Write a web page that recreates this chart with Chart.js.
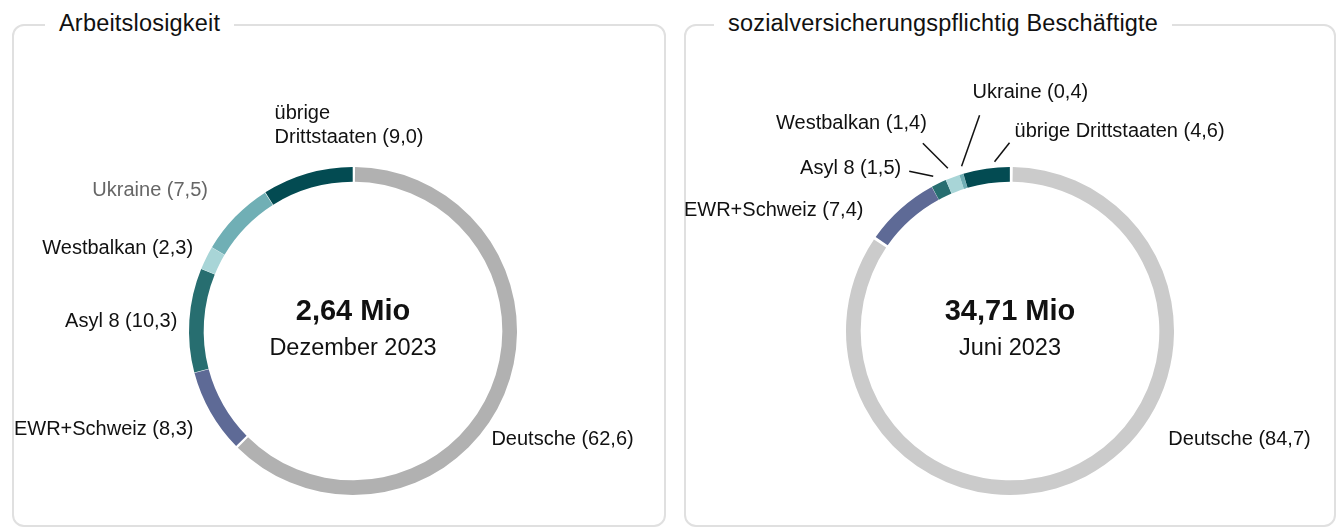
<!DOCTYPE html>
<html lang="de">
<head>
<meta charset="utf-8">
<title>Arbeitslosigkeit und Beschäftigte nach Staatsangehörigkeit</title>
<script src="https://cdn.jsdelivr.net/npm/chart.js@4.4.1/dist/chart.umd.min.js"></script>
<style>
  html, body { margin: 0; padding: 0; background: #fff; }
  body { width: 1336px; height: 529px; position: relative; overflow: hidden; font-family: 'Liberation Sans', Arial, sans-serif; }
  .panel { position: absolute; top: 24px; height: 503px; border: 2px solid #e0e0e0; border-radius: 12px; box-sizing: border-box; }
  #panelLeft { left: 12px; width: 654px; }
  #panelRight { left: 684px; width: 652px; }
  .panel h2 { position: absolute; top: -17px; margin: 0; padding: 0 14px; background: #fff; font-weight: normal; font-size: 23.5px; line-height: 28px; color: #111; letter-spacing: 0.2px; }
  #panelLeft h2 { left: 31px; }
  #panelRight h2 { left: 28px; }
  canvas { position: absolute; top: 24px; }
  #chartLeft { left: 12px; }
  #chartRight { left: 684px; }
</style>
</head>
<body>
<div class="panel" id="panelLeft"><h2>Arbeitslosigkeit</h2></div>
<div class="panel" id="panelRight"><h2>sozialversicherungspflichtig Beschäftigte</h2></div>
<canvas id="chartLeft" width="654" height="503"></canvas>
<canvas id="chartRight" width="652" height="503"></canvas>
<script>
// Anteile in Prozent
const categories = ['Deutsche', 'EWR+Schweiz', 'Asyl 8', 'Westbalkan', 'Ukraine', 'übrige Drittstaaten'];
const sharesUnemployed = [62.6, 8.3, 10.3, 2.3, 7.5, 9.0];
const sharesEmployed = [84.7, 7.4, 1.5, 1.4, 0.4, 4.6];
const totalUnemployed = '2,64 Mio';
const dateUnemployed = 'Dezember 2023';
const totalEmployed = '34,71 Mio';
const dateEmployed = 'Juni 2023';

const colorsLeft = ['#b1b1b1', '#5e6a96', '#276e70', '#a8d5d7', '#70afb5', '#034b52'];
const colorsRight = ['#cbcbcb', '#5e6a96', '#276e70', '#a8d5d7', '#70afb5', '#034b52'];

// label placement relative to the middle of each arc (outer edge)
const layoutLeft = [
  { dx: -12, dy: 46, align: 'left' },
  { dx: -18, dy: 18, align: 'right' },
  { dx: -13, dy: 1, align: 'right' },
  { dx: -14, dy: -10, align: 'right' },
  { dx: -28, dy: -27, align: 'right', color: '#666' },
  { dx: -33, dy: -61, align: 'left', wrap: true }
];
const layoutRight = [
  { dx: 83, dy: -36, align: 'left' },
  { dx: -38, dy: 1, align: 'right' },
  { dx: -38, dy: -16, align: 'right', line: [-6, -8, -30, -13] },
  { dx: -26, dy: -55, align: 'right', line: [-5, -10, -30, -35] },
  { dx: 11, dy: -83, align: 'left', line: [0, -9, 18, -60] },
  { dx: 28, dy: -38, align: 'left', line: [8, -8, 23, -27] }
];

const fmt = new Intl.NumberFormat('de-DE', { minimumFractionDigits: 1, maximumFractionDigits: 1 });
const FONT = "'Liberation Sans', Arial, sans-serif";

const outerLabels = {
  id: 'outerLabels',
  afterDraw(chart, args, opts) {
    const ctx = chart.ctx;
    const meta = chart.getDatasetMeta(0);
    const values = chart.data.datasets[0].data;
    ctx.save();
    ctx.font = '20px ' + FONT;
    ctx.textBaseline = 'middle';
    let cx = 0, cy = 0;
    meta.data.forEach((arc, i) => {
      const p = arc.getProps(['x', 'y', 'startAngle', 'endAngle', 'outerRadius'], true);
      cx = p.x; cy = p.y;
      const mid = (p.startAngle + p.endAngle) / 2;
      const ax = p.x + Math.cos(mid) * p.outerRadius;
      const ay = p.y + Math.sin(mid) * p.outerRadius;
      const lay = opts.layout[i];
      if (lay.line) {
        ctx.strokeStyle = '#111';
        ctx.lineWidth = 1.5;
        ctx.beginPath();
        ctx.moveTo(ax + lay.line[0], ay + lay.line[1]);
        ctx.lineTo(ax + lay.line[2], ay + lay.line[3]);
        ctx.stroke();
      }
      const text = chart.data.labels[i] + ' (' + fmt.format(values[i]) + ')';
      let lines = [text];
      if (lay.wrap) {
        const k = text.indexOf(' ');
        lines = [text.slice(0, k), text.slice(k + 1)];
      }
      ctx.fillStyle = lay.color || '#111';
      ctx.textAlign = lay.align;
      lines.forEach((t, k) => ctx.fillText(t, ax + lay.dx, ay + lay.dy + k * 24));
    });
    ctx.textAlign = 'center';
    ctx.fillStyle = '#111';
    ctx.font = 'bold 29px ' + FONT;
    ctx.fillText(opts.total, cx, cy - 19);
    ctx.font = '23.5px ' + FONT;
    ctx.fillText(opts.date, cx, cy + 18);
    ctx.restore();
  }
};

function makeDonut(id, values, colors, layout, total, date, padding) {
  return new Chart(document.getElementById(id), {
    type: 'doughnut',
    data: {
      labels: categories,
      datasets: [{
        data: values,
        backgroundColor: colors,
        borderWidth: 0,
        spacing: 2
      }]
    },
    options: {
      responsive: false,
      animation: false,
      radius: 163,
      cutout: '91%',
      layout: { padding: padding },
      plugins: {
        legend: { display: false },
        tooltip: { enabled: false },
        outerLabels: { layout: layout, total: total, date: date }
      }
    },
    plugins: [outerLabels]
  });
}

makeDonut('chartLeft', sharesUnemployed, colorsLeft, layoutLeft, totalUnemployed, dateUnemployed,
  { left: 171, right: 143, top: 137, bottom: 26 });
makeDonut('chartRight', sharesEmployed, colorsRight, layoutRight, totalEmployed, dateEmployed,
  { left: 156, right: 156, top: 137, bottom: 26 });
</script>
</body>
</html>
